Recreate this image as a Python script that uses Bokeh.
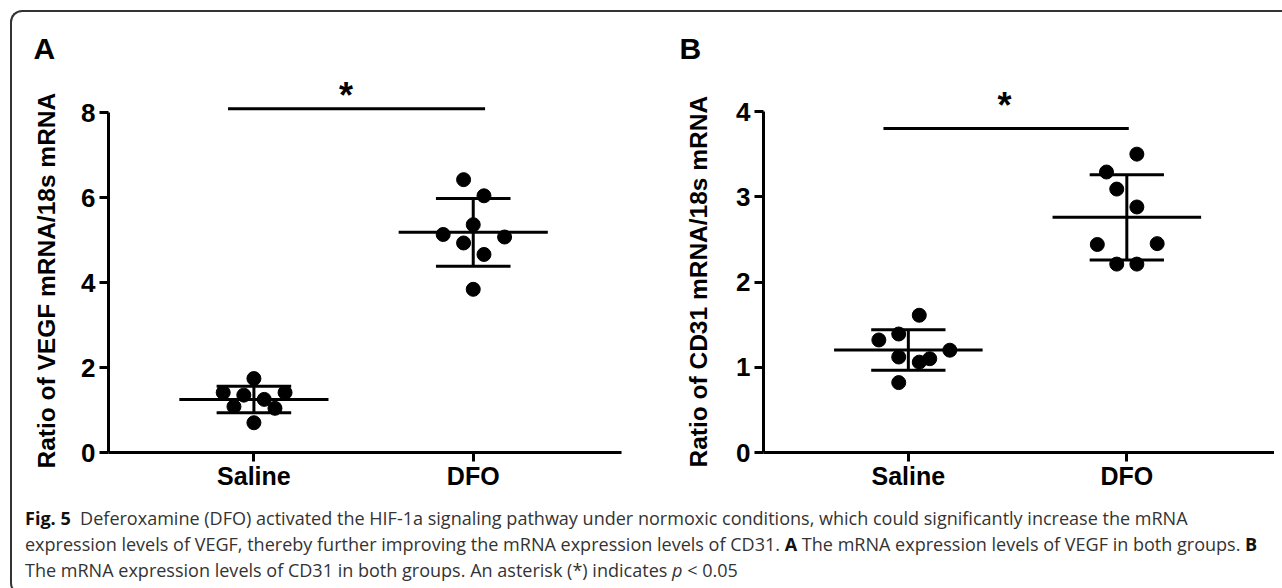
import numpy as np
from bokeh.plotting import figure
from bokeh.models import Range1d, FixedTicker, Div, ColumnDataSource, Title
from bokeh.layouts import column, row
from bokeh.core.properties import value
from bokeh.embed import file_html
from bokeh.resources import INLINE

# ---------------- data ----------------
categories = ["Saline", "DFO"]

vegf_saline = [1.74, 1.41, 1.35, 1.41, 1.25, 1.08, 1.04, 0.70]
vegf_saline_jitter = [0.0, -0.14, -0.046, 0.142, 0.047, -0.091, 0.096, 0.0]
vegf_dfo = [6.42, 6.04, 5.36, 5.13, 5.07, 4.93, 4.66, 3.84]
vegf_dfo_jitter = [-0.044, 0.049, 0.0, -0.137, 0.143, -0.044, 0.049, 0.0]

cd31_saline = [1.61, 1.39, 1.32, 1.20, 1.12, 1.10, 1.06, 0.82]
cd31_saline_jitter = [0.05, -0.044, -0.135, 0.19, -0.044, 0.098, 0.05, -0.044]
cd31_dfo = [3.50, 3.29, 3.09, 2.88, 2.44, 2.45, 2.21, 2.21]
cd31_dfo_jitter = [0.046, -0.093, -0.046, 0.046, -0.135, 0.139, -0.046, 0.046]

vegf_ticks = [0, 2, 4, 6, 8]
cd31_ticks = [0, 1, 2, 3, 4]

FONT = "Liberation Sans"


def panel(letter, groups, jitters, ticks, ylabel, yend, sig_y, star_y, sig_x,
          width, mb_left, mb_right, title_offset, ylabel_offset, ylabel_standoff):
    p = figure(width=width, height=488,
               x_range=Range1d(0.337, 2.676), y_range=Range1d(0, yend),
               output_backend="svg", toolbar_location=None,
               min_border_left=mb_left, min_border_right=mb_right,
               min_border_top=58, min_border_bottom=48,
               title=letter)
    p.outline_line_color = None
    p.grid.visible = False
    p.background_fill_color = None
    p.border_fill_color = None

    p.title.text_font = FONT
    p.title.text_font_size = "30px"
    p.title.text_font_style = "bold"
    p.title.text_color = "black"
    p.title.offset = title_offset
    p.title.standoff = 12

    for ax in (p.xaxis[0], p.yaxis[0]):
        ax.axis_line_width = 3
        ax.axis_line_color = "black"
        ax.major_tick_line_width = 3
        ax.major_tick_line_color = "black"
        ax.major_tick_out = 9
        ax.major_tick_in = 0
        ax.minor_tick_line_color = None
        ax.major_label_text_font = FONT
        ax.major_label_text_font_style = "bold"
        ax.major_label_text_color = "black"

    p.yaxis.ticker = FixedTicker(ticks=ticks)
    p.yaxis.bounds = (ticks[0], ticks[-1])
    p.yaxis.major_label_text_font_size = "26px"
    p.yaxis.major_label_standoff = 4

    # y-axis title, centred on the 0..max axis span like the original
    yt = Title(text=ylabel, align="left", offset=ylabel_offset,
               standoff=ylabel_standoff,
               text_font=FONT, text_font_size="24.5px", text_font_style="bold",
               text_color="black")
    p.add_layout(yt, "left")

    p.xaxis.ticker = FixedTicker(ticks=[1, 2])
    p.xaxis.major_label_overrides = {1: categories[0], 2: categories[1]}
    p.xaxis.major_label_text_font_size = "25px"
    p.xaxis.major_label_standoff = 0

    for i, (vals, jit) in enumerate(zip(groups, jitters)):
        xc = i + 1
        vals = np.array(vals)
        m = vals.mean()
        sd = vals.std(ddof=1)
        src = ColumnDataSource(dict(x=xc + np.array(jit), y=vals))
        p.scatter("x", "y", source=src, size=14, color="black")
        # mean line, SD caps and whisker
        p.segment(x0=[xc - 0.34], y0=[m], x1=[xc + 0.34], y1=[m],
                  line_width=3, color="black")
        p.segment(x0=[xc - 0.17, xc - 0.17], y0=[m + sd, m - sd],
                  x1=[xc + 0.17, xc + 0.17], y1=[m + sd, m - sd],
                  line_width=3, color="black")
        p.segment(x0=[xc], y0=[m - sd], x1=[xc], y1=[m + sd],
                  line_width=3, color="black")

    # significance bar and asterisk
    p.segment(x0=[sig_x[0]], y0=[sig_y], x1=[sig_x[1]], y1=[sig_y],
              line_width=3, color="black")
    p.text(x=[sig_x[2]], y=[star_y], text=["*"], text_align="center",
           text_baseline="alphabetic", text_font=value(FONT),
           text_font_style="bold", text_font_size="36px", text_color="black")
    return p


pA = panel("A", [vegf_saline, vegf_dfo], [vegf_saline_jitter, vegf_dfo_jitter],
           vegf_ticks, "Ratio of VEGF mRNA/18s mRNA", 382 / 42.5, 8.09, 8.40,
           (0.882, 2.054, 1.42), 648, 95, 39, -75, -16, 37)
pB = panel("B", [cd31_saline, cd31_dfo], [cd31_saline_jitter, cd31_dfo_jitter],
           cd31_ticks, "Ratio of CD31 mRNA/18s mRNA", 382 / 85.25, 3.80, 4.07,
           (0.886, 2.009, 1.44), 614, 102, 0, -84, -15, 44)

caption_lines = [
    "<b style='color:#111'>Fig.&nbsp;5</b>&nbsp;&nbsp;Deferoxamine (DFO) activated the HIF-1a signaling pathway under normoxic conditions, which could significantly increase the mRNA",
    "expression levels of VEGF, thereby further improving the mRNA expression levels of CD31. <b style='color:#111'>A</b> The mRNA expression levels of VEGF in both groups. <b style='color:#111'>B</b>",
    "The mRNA expression levels of CD31 in both groups. An asterisk (*) indicates <i>p</i> &lt; 0.05",
]
caption = Div(
    text=("<div style=\"font-family:'Open Sans',sans-serif;font-size:18.05px;line-height:26px;"
          "white-space:nowrap;color:#333;margin-left:8px;\">"
          + "<br>".join(caption_lines) + "</div>"),
    width=1264, height=83)

layout = column(
    row(pA, pB),
    caption,
    styles={"margin-left": "10px", "margin-top": "10px",
            "border-top": "2px solid #333", "border-left": "2px solid #333",
            "border-bottom": "2px solid #333",
            "border-radius": "12px 0 0 12px"},
)

open("out.html", "w").write(file_html(layout, INLINE))
